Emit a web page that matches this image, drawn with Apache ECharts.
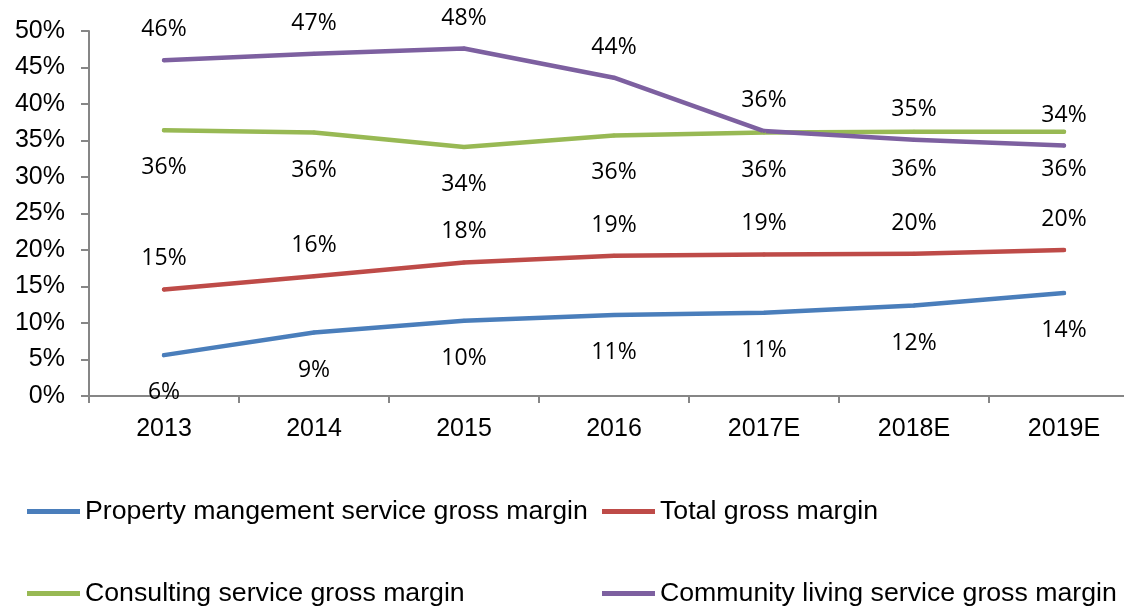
<!DOCTYPE html>
<html>
<head>
<meta charset="utf-8">
<script src="https://cdn.jsdelivr.net/npm/echarts@6/dist/echarts.min.js"></script>
<style>
  html, body { margin: 0; padding: 0; background: #fff; }
  #chart { width: 1124px; height: 607px; }
</style>
</head>
<body>
<div id="chart"></div>
<script>
// Gross margin by business line, 2013 to 2019E (%)
const categories = ['2013', '2014', '2015', '2016', '2017E', '2018E', '2019E'];
const propertyMgmt = [5.6, 8.7, 10.3, 11.1, 11.4, 12.4, 14.1];
const totalMargin = [14.6, 16.4, 18.3, 19.2, 19.4, 19.5, 20.0];
const consulting = [36.4, 36.1, 34.1, 35.7, 36.1, 36.2, 36.2];
const communityLiving = [46.0, 46.9, 47.6, 43.6, 36.3, 35.1, 34.3];
const yTicks = [0, 5, 10, 15, 20, 25, 30, 35, 40, 45, 50];

const names = [
  'Property mangement service gross margin',
  'Total gross margin',
  'Consulting service gross margin',
  'Community living service gross margin'
];
const colors = ['#4a7ebb', '#be4b48', '#98b954', '#7d60a0'];
const values = [propertyMgmt, totalMargin, consulting, communityLiving];
const labelSide = ['bottom', 'top', 'bottom', 'top'];

const chart = echarts.init(document.getElementById('chart'), null, { renderer: 'canvas' });

const series = names.map((name, i) => ({
  name: name,
  type: 'line',
  data: values[i],
  showSymbol: true,
  symbol: 'circle',
  symbolSize: 4,
  lineStyle: { color: colors[i], width: 4.5, cap: 'round', join: 'round' },
  itemStyle: { color: colors[i] },
  label: {
    show: true,
    position: labelSide[i],
    distance: labelSide[i] === 'top' ? 17 : 24,
    formatter: p => Math.round(p.value) + '%',
    fontFamily: 'Open Sans',
    fontSize: 23,
    color: '#000'
  },
  labelLayout: { hideOverlap: false },
  emphasis: { disabled: true },
  animation: false
}));

const legendPos = [
  { left: 27, top: 498 },
  { left: 602, top: 498 },
  { left: 27, top: 580 },
  { left: 602, top: 580 }
];
const legends = names.map((name, i) => ({
  data: [{ name: name, itemStyle: { color: colors[i] } }],
  left: legendPos[i].left,
  top: legendPos[i].top,
  padding: 0,
  icon: 'rect',
  itemWidth: 53,
  itemHeight: 5,
  textStyle: { fontFamily: 'Liberation Sans', fontSize: 26.7, color: '#000' },
  selectedMode: false
}));

chart.setOption({
  backgroundColor: '#fff',
  animation: false,
  grid: { left: 89, width: 1050, top: 31, bottom: 211, containLabel: false, outerBoundsMode: 'none' },
  legend: legends,
  xAxis: {
    type: 'category',
    data: categories,
    boundaryGap: true,
    axisLine: { lineStyle: { color: '#868686', width: 2 } },
    axisTick: { show: true, length: 7, lineStyle: { color: '#868686', width: 2 } },
    axisLabel: { margin: 21, fontFamily: 'Liberation Sans', fontSize: 25, color: '#000' },
    splitLine: { show: false }
  },
  yAxis: {
    type: 'value',
    min: yTicks[0],
    max: yTicks[yTicks.length - 1],
    interval: 5,
    axisLine: { show: true, lineStyle: { color: '#868686', width: 2 } },
    axisTick: { show: true, length: 8, lineStyle: { color: '#868686', width: 2 } },
    axisLabel: { margin: 24, fontFamily: 'Liberation Sans', fontSize: 25, color: '#000', formatter: v => v + '%' },
    splitLine: { show: false }
  },
  series: series
});
</script>
</body>
</html>
